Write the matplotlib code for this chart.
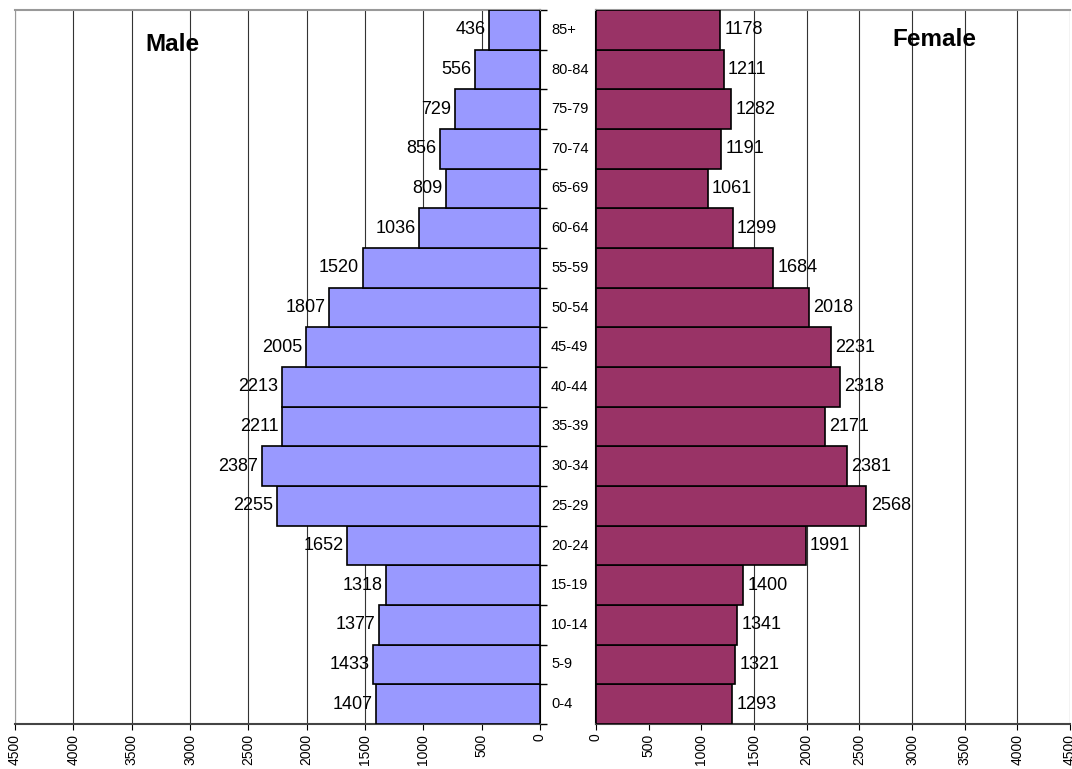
import matplotlib
matplotlib.use("Agg")
import matplotlib.pyplot as plt
import numpy as np

ages = ["0-4", "5-9", "10-14", "15-19", "20-24", "25-29", "30-34", "35-39", "40-44",
        "45-49", "50-54", "55-59", "60-64", "65-69", "70-74", "75-79", "80-84", "85+"]
male = [1407, 1433, 1377, 1318, 1652, 2255, 2387, 2211, 2213, 2005, 1807, 1520, 1036,
        809, 856, 729, 556, 436]
female = [1293, 1321, 1341, 1400, 1991, 2568, 2381, 2171, 2318, 2231, 2018, 1684, 1299,
          1061, 1191, 1282, 1211, 1178]
xticks = [0, 500, 1000, 1500, 2000, 2500, 3000, 3500, 4000, 4500]

W, H = 1072, 769
fig = plt.figure(figsize=(W / 100, H / 100), dpi=100)
plt.rcParams['font.family'] = ['Liberation Sans', 'DejaVu Sans']

top = 1 - 10 / H
bot = 1 - 724 / H
axL = fig.add_axes([15 / W, bot, (540 - 15) / W, top - bot])
axR = fig.add_axes([596 / W, bot, (1070 - 596) / W, top - bot])

y = np.arange(len(ages))
male_c = "#9999FF"
fem_c = "#993366"

for ax in (axL, axR):
    ax.set_xlim(0, 4500)
    ax.set_ylim(-0.5, len(ages) - 0.5)
    ax.set_xticks(xticks)
    ax.set_xticklabels([str(t) for t in xticks], rotation=90, fontsize=10)
    ax.grid(axis='x', color='#333333', linewidth=0.8)
    ax.set_axisbelow(True)
    ax.tick_params(axis='x', length=4, width=0.8, pad=3)
    ax.spines['top'].set_color('#999999')
    ax.spines['bottom'].set_color('#444444')
    ax.spines['top'].set_linewidth(1.5)
    ax.spines['bottom'].set_linewidth(1.5)

axL.invert_xaxis()
axL.barh(y, male, height=1.0, color=male_c, edgecolor='black', linewidth=1.2, zorder=3)
axR.barh(y, female, height=1.0, color=fem_c, edgecolor='black', linewidth=1.2, zorder=3)

# Left panel spines / ticks
axL.spines['left'].set_color('#999999')
axL.spines['right'].set_color('black')
axL.spines['right'].set_linewidth(1.5)
axL.yaxis.tick_right()
axL.set_yticks(np.arange(len(ages) + 1) - 0.5)
axL.set_yticklabels([])
axL.tick_params(axis='y', length=5, width=1, direction='out')

axR.spines['left'].set_color('black')
axR.spines['left'].set_linewidth(1.5)
axR.spines['right'].set_visible(False)
axR.set_yticks([])

for i, v in enumerate(male):
    axL.text(v + 30, i, str(v), ha='right', va='center', fontsize=13, zorder=4)
for i, v in enumerate(female):
    axR.text(v + 40, i, str(v), ha='left', va='center', fontsize=13, zorder=4)

for i, a in enumerate(ages):
    axL.annotate(a, xy=(1.0, (i + 0.5) / len(ages)), xycoords='axes fraction',
                 xytext=(8, 0), textcoords='offset points', ha='left', va='center',
                 fontsize=10.5)

axL.text(0.30, 0.951, "Male", transform=axL.transAxes, fontsize=17.5, fontweight='bold',
         ha='center', va='center')
axR.text(0.713, 0.958, "Female", transform=axR.transAxes, fontsize=17.5, fontweight='bold',
         ha='center', va='center')

fig.savefig("out.png", dpi=100)
